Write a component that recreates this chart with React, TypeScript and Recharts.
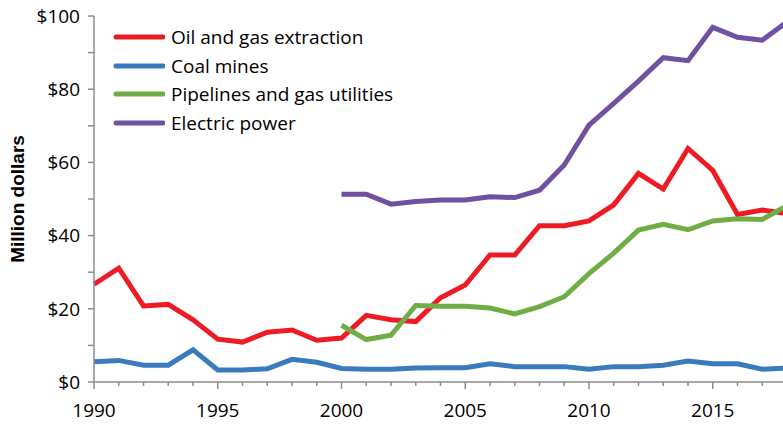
import { LineChart, Line, XAxis, YAxis, Legend } from 'recharts';

const years = [
  1990, 1991, 1992, 1993, 1994, 1995, 1996, 1997, 1998, 1999,
  2000, 2001, 2002, 2003, 2004, 2005, 2006, 2007, 2008, 2009,
  2010, 2011, 2012, 2013, 2014, 2015, 2016, 2017, 2018,
];

const oilGas = [
  26.7, 31.1, 20.8, 21.2, 17.0, 11.7, 10.9, 13.6, 14.2, 11.4,
  12.0, 18.2, 17.0, 16.5, 23.0, 26.5, 34.7, 34.7, 42.7, 42.7,
  44.0, 48.4, 57.0, 52.7, 63.8, 57.8, 45.8, 47.0, 46.0,
];

const coalMines = [
  5.5, 5.9, 4.6, 4.6, 8.8, 3.3, 3.3, 3.6, 6.2, 5.4,
  3.7, 3.5, 3.5, 3.8, 3.9, 3.9, 5.0, 4.2, 4.2, 4.2,
  3.5, 4.2, 4.2, 4.6, 5.7, 5.0, 5.0, 3.5, 3.8,
];

// pipelines and electric power series begin in 2000
const pipelines = [
  15.5, 11.6, 12.8, 20.9, 20.7, 20.7, 20.2, 18.6, 20.6, 23.3,
  29.6, 35.2, 41.5, 43.1, 41.6, 44.0, 44.6, 44.4, 48.2,
];

const electric = [
  51.3, 51.3, 48.6, 49.3, 49.7, 49.7, 50.6, 50.4, 52.4, 59.3,
  70.2, 76.1, 82.2, 88.6, 87.8, 96.9, 94.2, 93.4, 98.4,
];

const xTicks = years;
const yTicks = [0, 10, 20, 30, 40, 50, 60, 70, 80, 90, 100];

const seriesInfo = [
  { key: 'oil', name: 'Oil and gas extraction', color: '#ED1C24' },
  { key: 'coal', name: 'Coal mines', color: '#3A7BBF' },
  { key: 'pipe', name: 'Pipelines and gas utilities', color: '#70AD47' },
  { key: 'elec', name: 'Electric power', color: '#7050A0' },
];

const offset = years.length - pipelines.length;
const data = years.map((year, i) => ({
  year,
  oil: oilGas[i],
  coal: coalMines[i],
  pipe: i >= offset ? pipelines[i - offset] : null,
  elec: i >= offset ? electric[i - offset] : null,
}));

const FONT = '"Open Sans", Lato, sans-serif';
const AXIS = '#8C8C8C';

const XTick = (props: any) => {
  const { x, y, payload } = props;
  const major = payload.value % 5 === 0;
  return (
    <g>
      <line x1={x} x2={x} y1={y} y2={y + (major ? 7 : 4)} stroke={AXIS} strokeWidth={1.5} />
      {major && (
        <text x={x} y={y + 35} textAnchor="middle" fontSize={19} fontFamily={FONT} fill="#000">
          {payload.value}
        </text>
      )}
    </g>
  );
};

const LegendBox = () => (
  <div style={{ fontFamily: FONT, fontSize: 19, color: '#000', whiteSpace: 'nowrap' }}>
    {seriesInfo.map((s) => (
      <div key={s.key} style={{ display: 'flex', alignItems: 'center', height: 28.5 }}>
        <svg width={52} height={10} style={{ marginRight: 6 }}>
          <line x1={3} x2={50} y1={5} y2={5} stroke={s.color} strokeWidth={5} strokeLinecap="round" />
        </svg>
        <span>{s.name}</span>
      </div>
    ))}
  </div>
);

export default function App() {
  return (
    <div style={{ position: 'absolute', left: 0, top: 0, width: 783, height: 424, overflow: 'hidden' }}>
      <LineChart width={797} height={422} data={data} margin={{ top: 16, right: 10, left: 8, bottom: 0 }}>
        <XAxis
          dataKey="year"
          type="number"
          domain={[1990, 2018]}
          ticks={xTicks}
          interval={0}
          tick={<XTick />}
          tickLine={false}
          tickSize={0}
          tickMargin={0}
          height={40}
          axisLine={{ stroke: AXIS, strokeWidth: 1.5 }}
        />
        <YAxis
          type="number"
          domain={[0, 100]}
          ticks={yTicks}
          interval={0}
          width={86}
          tickSize={6}
          tickMargin={8}
          tickFormatter={(v: number) => (v % 20 === 0 ? `$${v}` : '')}
          tick={{ fontSize: 19, fontFamily: FONT, fill: '#000' }}
          tickLine={{ stroke: AXIS, strokeWidth: 1.5 }}
          axisLine={{ stroke: AXIS, strokeWidth: 1.5 }}
          label={{
            value: 'Million dollars',
            angle: -90,
            position: 'insideLeft',
            dx: 4,
            style: { textAnchor: 'middle', fontSize: 19, fontWeight: 'bold', fontFamily: 'Liberation Sans, Arial, sans-serif', fill: '#000' },
          }}
        />
        <Legend
          content={<LegendBox />}
          layout="vertical"
          verticalAlign="middle"
          align="center"
          wrapperStyle={{ left: 113, top: 23, width: 340 }}
        />
        {seriesInfo.map((s) => (
          <Line
            key={s.key}
            dataKey={s.key}
            name={s.name}
            stroke={s.color}
            strokeWidth={5}
            dot={false}
            activeDot={false}
            isAnimationActive={false}
            strokeLinejoin="miter"
          />
        ))}
      </LineChart>
    </div>
  );
}
